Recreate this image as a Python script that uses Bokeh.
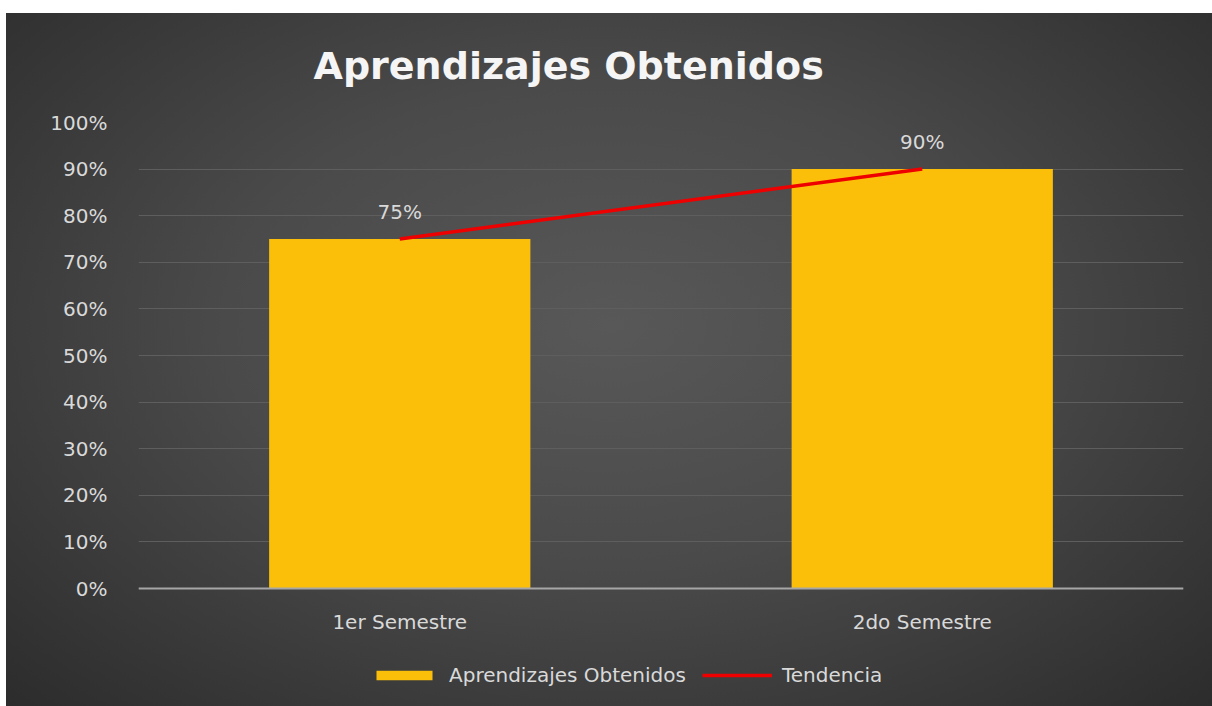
from bokeh.plotting import figure
from bokeh.models import (FactorRange, Range1d, NumeralTickFormatter, FixedTicker,
                          Legend, LegendItem, ColumnDataSource, Title, Span)
from bokeh.core.properties import value
from bokeh.embed import file_html
from bokeh.resources import INLINE

categories = ["1er Semestre", "2do Semestre"]
values = [0.75, 0.90]
trend = [0.75, 0.90]
value_labels = ["75%", "90%"]
y_ticks = [0.0, 0.1, 0.2, 0.3, 0.4, 0.5, 0.6, 0.7, 0.8, 0.9, 1.0]
series_name = "Aprendizajes Obtenidos"
trend_name = "Tendencia"
title_text = "Aprendizajes Obtenidos"

FONT = "DejaVu Sans"
TXT = "#d9d9d9"

# layout (pixels)
FRAME_H = 584      # plot frame height, extends below the 0% line to host the category labels and legend
AXIS_H = 466       # pixels from 0% to 100%

src = ColumnDataSource(dict(cat=categories, val=values, tr=trend, lab=value_labels,
                            base=[0.0] * len(categories)))

p = figure(x_range=FactorRange(*categories, range_padding=0),
           y_range=Range1d(-(FRAME_H - AXIS_H) / AXIS_H, 1),
           frame_width=1045, frame_height=FRAME_H, output_backend="svg", toolbar_location=None,
           x_axis_location=None,
           min_border_left=138, min_border_right=29, min_border_top=122, min_border_bottom=0)

p.background_fill_alpha = 0
p.border_fill_alpha = 0
p.outline_line_color = None
p.styles = {
    "background-color": "white",
    "background-image": "radial-gradient(ellipse at 50% 45%, #585858 0%, #4a4a4a 45%, #2c2c2c 100%)",
    "background-position": "6px 13px",
    "background-size": "1206px 693px",
    "background-repeat": "no-repeat",
}

p.xgrid.grid_line_color = None
p.ygrid.grid_line_color = "#5e5e5e"
p.ygrid.grid_line_width = 1
p.yaxis.ticker = FixedTicker(ticks=y_ticks)
p.yaxis.formatter = NumeralTickFormatter(format="0%")
p.yaxis.axis_line_color = None
p.yaxis.major_tick_line_color = None
p.yaxis.minor_tick_line_color = None
p.yaxis.major_label_text_font = FONT
p.yaxis.major_label_text_font_size = "20px"
p.yaxis.major_label_text_color = TXT
p.yaxis.major_label_standoff = 25

bars = p.vbar(x="cat", top="val", width=0.5, source=src, fill_color="#fbbf0a", line_color=None)
p.add_layout(Span(location=0, dimension="width", line_color="#a6a6a6", line_width=2))
line = p.line(x="cat", y="tr", source=src, line_color="#ee0000", line_width=3.5)
p.text(x="cat", y="val", text="lab", source=src, y_offset=-27, text_align="center",
       text_baseline="alphabetic", text_color=TXT, text_font=value(FONT), text_font_size="20px")
# category labels
p.text(x="cat", y="base", text="cat", source=src, y_offset=33, text_align="center",
       text_baseline="middle", text_color=TXT, text_font=value(FONT), text_font_size="20px")

p.title = Title(text=title_text, align="left", text_font=FONT, text_font_size="38px",
                text_font_style="bold", text_color="#f5f5f5", standoff=70, offset=175)

legend = Legend(items=[LegendItem(label=series_name, renderers=[bars]),
                       LegendItem(label=trend_name, renderers=[line])],
                orientation="horizontal", location=(231, 19),
                glyph_width=70, glyph_height=12, label_standoff=10, spacing=16,
                label_text_font=FONT, label_text_font_size="20px", label_text_color=TXT,
                background_fill_alpha=0, border_line_color=None, margin=0, padding=4)
p.add_layout(legend, "center")

open("out.html", "w").write(file_html(p, INLINE))
